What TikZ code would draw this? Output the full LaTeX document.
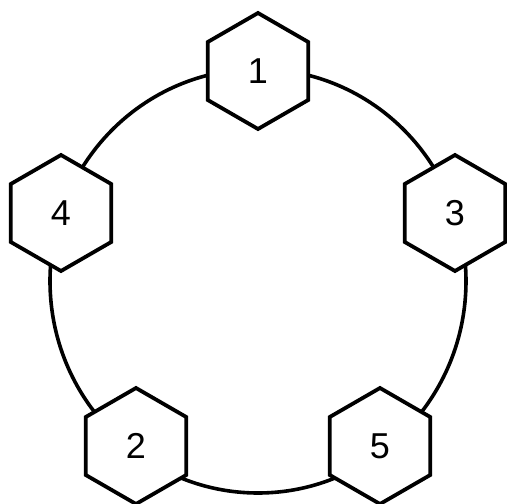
\documentclass[tikz,border=0pt]{standalone}
\usepackage{fontspec}
\setmainfont{Liberation Sans}
\usetikzlibrary{shapes.geometric}
\begin{document}
\begin{tikzpicture}[x=1pt,y=-1pt,
  hexnode/.style={regular polygon, regular polygon sides=6, shape border rotate=90,
    draw=black, fill=white, line width=3.8pt, inner sep=0pt, minimum size=116pt,
    font=\fontsize{36}{36}\selectfont},
  ring/.style={draw=black, line width=3.6pt}]
\fill[white] (0,0) rectangle (507,504);
\useasboundingbox (0,0) rectangle (507,504);
\path[ring] (258,281) ellipse [x radius=208, y radius=212];
\node[hexnode] (n1) at (258,71) {1};
\node[hexnode] (n4) at (61,213) {4};
\node[hexnode] (n3) at (455,213) {3};
\node[hexnode] (n2) at (136,446) {2};
\node[hexnode] (n5) at (380,446) {5};
\end{tikzpicture}
\end{document}
